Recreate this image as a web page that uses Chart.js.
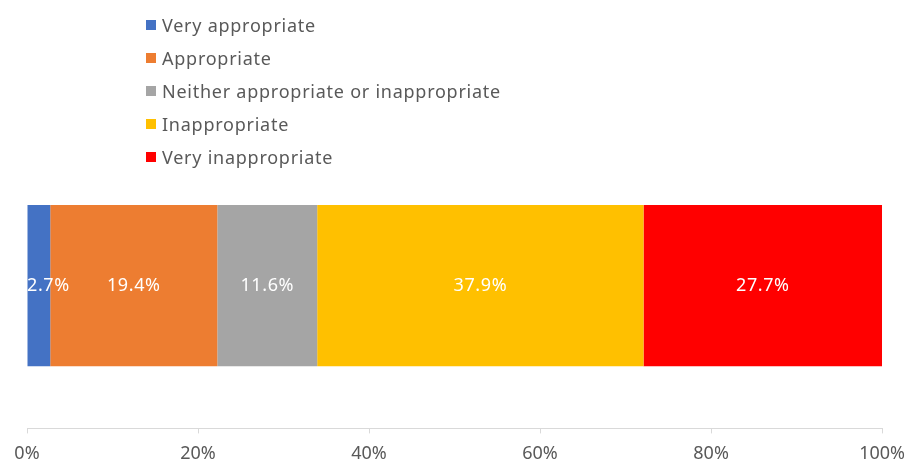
<!DOCTYPE html>
<html>
<head>
<meta charset="utf-8">
<script src="https://cdn.jsdelivr.net/npm/chart.js@4.4.1/dist/chart.umd.min.js"></script>
<style>
  html, body { margin: 0; padding: 0; background: #fff; overflow: hidden; }
  #wrap { position: relative; width: 905px; height: 461px; overflow: hidden; }
  #legend { position: absolute; left: 146px; top: 8px; margin: 0; padding: 0; list-style: none;
            font-family: "Noto Sans", sans-serif; font-size: 18px; letter-spacing: 0.75px; color: #595959; }
  #legend li { display: flex; align-items: center; height: 33px; }
  #legend span { display: inline-block; width: 10px; height: 10px; margin-right: 6px; }
</style>
</head>
<body>
<div id="wrap">
  <canvas id="chart" width="915" height="475"></canvas>
  <ul id="legend"></ul>
</div>
<script>
const categories = [''];
const seriesNames = ['Very appropriate', 'Appropriate', 'Neither appropriate or inappropriate', 'Inappropriate', 'Very inappropriate'];
const seriesValues = [2.7, 19.4, 11.6, 37.9, 27.7];
const seriesColors = ['#4472C4', '#ED7D31', '#A5A5A5', '#FFC000', '#FF0000'];
const tickLabels = ['0%', '20%', '40%', '60%', '80%', '100%'];

const FONT = '"Noto Sans", sans-serif';
const total = seriesValues.reduce((a, b) => a + b, 0);

// 100% stacked: each segment is its share of the total
const datasets = seriesNames.map((name, i) => ({
  label: name,
  data: [seriesValues[i] / total * 100],
  raw: seriesValues[i],
  backgroundColor: seriesColors[i],
  barPercentage: 0.565,
  categoryPercentage: 1,
}));

const segmentLabels = {
  id: 'segmentLabels',
  afterDatasetsDraw(chart) {
    const ctx = chart.ctx;
    const left = chart.chartArea.left;
    ctx.save();
    ctx.font = '18px ' + FONT;
    ctx.letterSpacing = '0.6px';
    ctx.fillStyle = '#ffffff';
    ctx.textAlign = 'center';
    ctx.textBaseline = 'middle';
    chart.data.datasets.forEach((ds, i) => {
      chart.getDatasetMeta(i).data.forEach(bar => {
        const text = ds.raw.toFixed(1) + '%';
        const w = ctx.measureText(text).width;
        const cx = Math.max((bar.x + bar.base) / 2, left + w / 2);
        ctx.fillText(text, cx, bar.y);
      });
    });
    ctx.restore();
  }
};

const htmlLegend = {
  id: 'htmlLegend',
  afterUpdate(chart) {
    const ul = document.getElementById('legend');
    ul.innerHTML = '';
    chart.data.datasets.forEach(ds => {
      const li = document.createElement('li');
      const box = document.createElement('span');
      box.style.background = ds.backgroundColor;
      li.appendChild(box);
      li.appendChild(document.createTextNode(ds.label));
      ul.appendChild(li);
    });
  }
};

new Chart(document.getElementById('chart'), {
  type: 'bar',
  data: { labels: categories, datasets: datasets },
  options: {
    indexAxis: 'y',
    responsive: false,
    animation: false,
    layout: { padding: { top: 143, left: 27, right: 7, bottom: 0 } },
    plugins: {
      legend: { display: false },
      tooltip: { enabled: false },
    },
    scales: {
      x: {
        stacked: true,
        min: 0,
        max: 100,
        border: { display: true, color: '#D9D9D9', width: 1 },
        grid: { drawOnChartArea: false, drawTicks: true, tickLength: 5, color: '#D9D9D9' },
        ticks: {
          stepSize: 20,
          color: '#595959',
          font: { family: FONT, size: 18 },
          padding: 10,
          maxRotation: 0,
          callback: (v, i) => tickLabels[i],
        },
      },
      y: {
        stacked: true,
        display: false,
      },
    },
  },
  plugins: [segmentLabels, htmlLegend],
});
</script>
</body>
</html>
